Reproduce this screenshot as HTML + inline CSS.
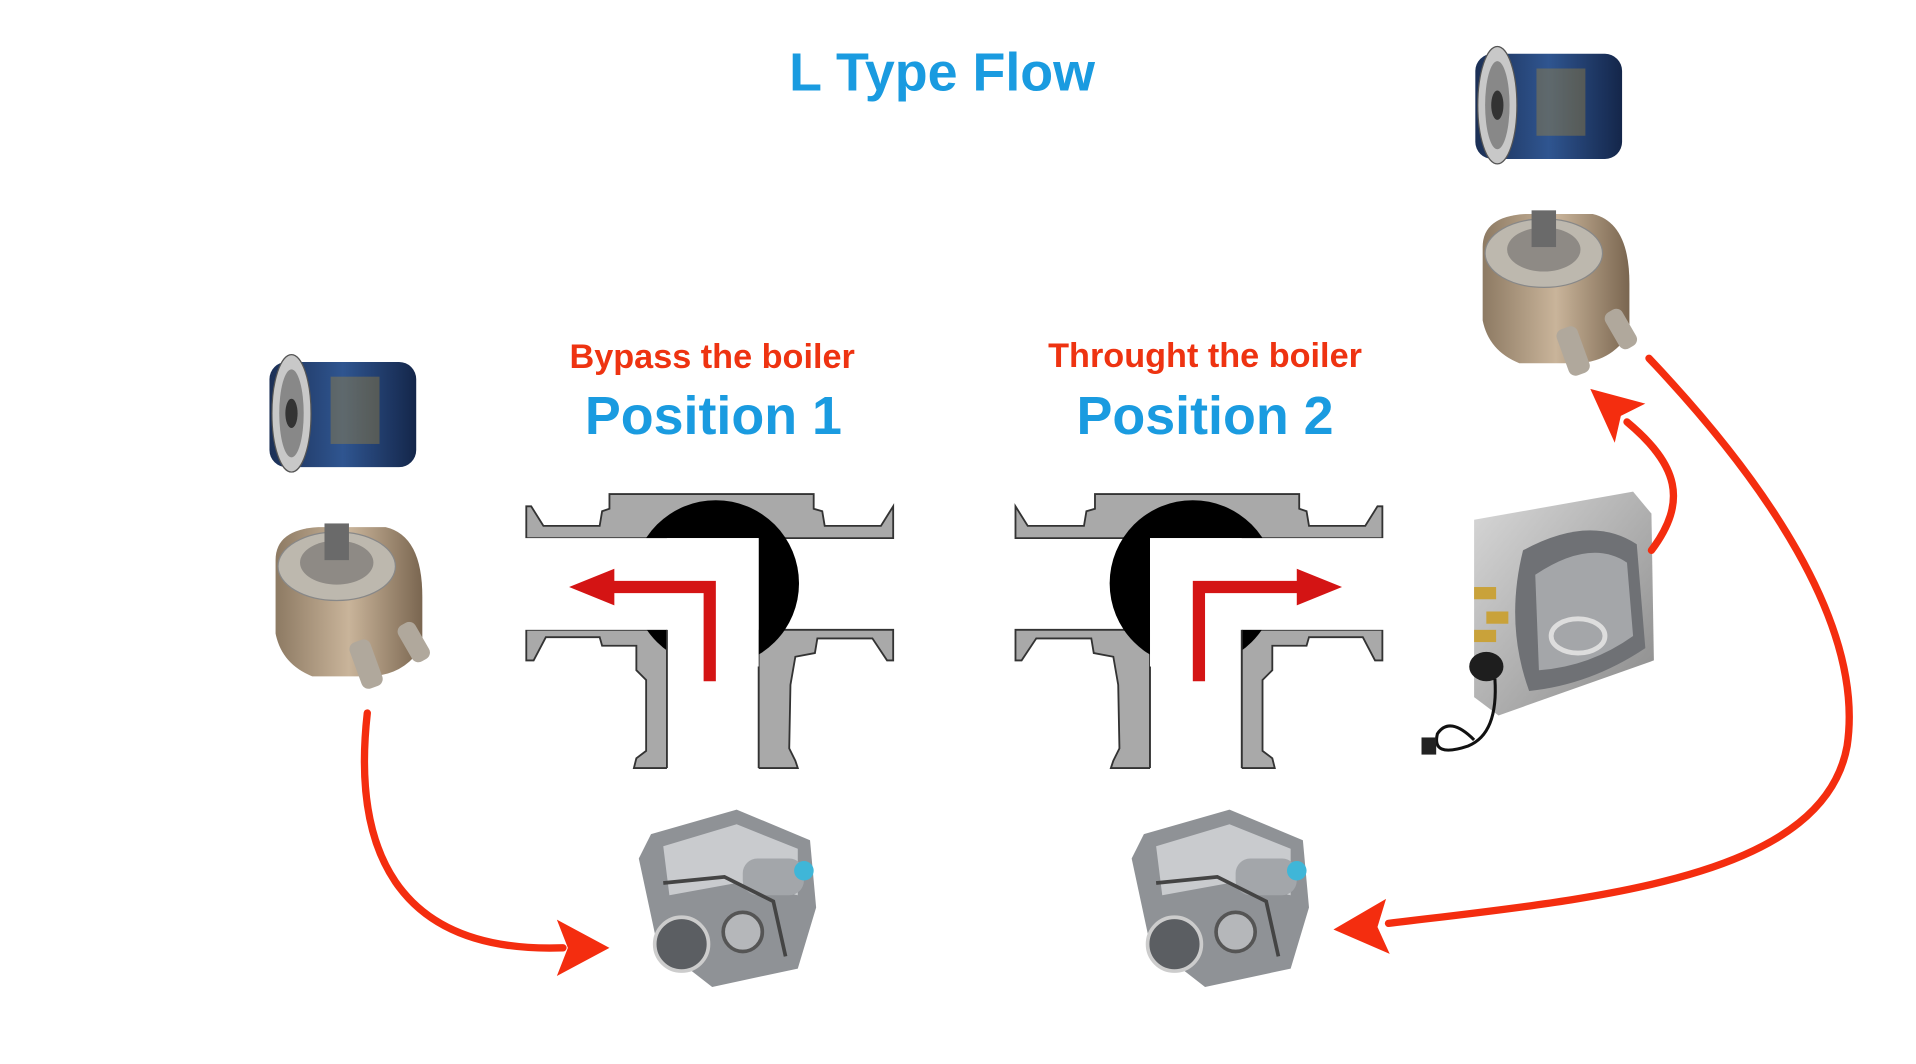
<!DOCTYPE html>
<html><head><meta charset="utf-8"><style>
html,body{margin:0;padding:0;background:#fff;width:1916px;height:1064px;overflow:hidden}
svg{display:block}
text{font-family:"Liberation Sans",sans-serif;font-weight:bold}
</style></head><body>
<svg width="1916" height="1064" viewBox="0 0 1566 870" xmlns="http://www.w3.org/2000/svg">
<defs>
<linearGradient id="blue" x1="0" x2="1"><stop offset="0" stop-color="#1b2f55"/><stop offset="0.5" stop-color="#2f5590"/><stop offset="1" stop-color="#14264a"/></linearGradient>
<linearGradient id="cool" x1="0" x2="1"><stop offset="0" stop-color="#8d7a63"/><stop offset="0.5" stop-color="#c9b49a"/><stop offset="1" stop-color="#7a6650"/></linearGradient>
<linearGradient id="steel" x1="0" x2="1" y1="0" y2="1"><stop offset="0" stop-color="#d8d8d8"/><stop offset="1" stop-color="#8a8a8a"/></linearGradient>
<g id="valve">
  <path d="M430,414 L434,414 L444,430 L490,430 L492,418 L498,416 L498,404 L665,404 L665,416 L672,418 L674,430 L720,430 L730,414 L730,440 L430,440 Z" fill="#a9a9a9" stroke="#333" stroke-width="1.5"/>
  <path d="M430,515 L545,515 L545,628 L518,628 L520,620 L528,614 L528,556 L520,548 L520,528 L492,528 L490,521 L446,521 L436,540 L430,540 Z" fill="#a9a9a9" stroke="#333" stroke-width="1.5"/>
  <path d="M620,515 L730,515 L730,540 L725,540 L713,522 L668,522 L666,534 L650,537 L646,560 L645,612 L650,622 L652,628 L620,628 Z" fill="#a9a9a9" stroke="#333" stroke-width="1.5"/>
  <circle cx="585" cy="477" r="68" fill="#000"/>
  <rect x="428" y="440" width="192" height="75" fill="#fff"/>
  <rect x="545" y="440" width="75" height="195" fill="#fff"/>
  <path d="M545,515 L545,628" stroke="#333" stroke-width="1.5"/>
  <path d="M620,545 L620,628" stroke="#333" stroke-width="1.5"/>
</g>
<g id="filter">
  <rect x="0" y="8" width="120" height="86" rx="14" fill="url(#blue)"/>
  <ellipse cx="18" cy="50" rx="16" ry="48" fill="#c8c8c8" stroke="#555"/>
  <ellipse cx="18" cy="50" rx="10" ry="36" fill="#888"/>
  <ellipse cx="18" cy="50" rx="5" ry="12" fill="#333"/>
  <rect x="50" y="20" width="40" height="55" fill="#b8902e" opacity="0.35"/>
</g>
<g id="cooler">
  <path d="M5,30 Q5,5 40,3 L95,3 Q125,10 125,60 L125,100 Q110,125 80,125 L35,125 Q10,115 5,90 Z" fill="url(#cool)"/>
  <ellipse cx="55" cy="35" rx="48" ry="28" fill="#bdb8ae" stroke="#888"/>
  <ellipse cx="55" cy="32" rx="30" ry="18" fill="#8e8a85"/>
  <rect x="45" y="0" width="20" height="30" fill="#6a6a6a"/>
  <rect x="70" y="95" width="18" height="40" rx="6" fill="#b0a89c" transform="rotate(-20 79 115)"/>
  <rect x="110" y="80" width="16" height="34" rx="6" fill="#b0a89c" transform="rotate(-30 118 97)"/>
</g>
<g id="engine">
  <path d="M20,20 L90,0 L150,25 L155,80 L140,130 L70,145 L25,110 L10,40 Z" fill="#8f9296"/>
  <path d="M30,30 L90,12 L140,32 L140,70 L90,60 L35,70 Z" fill="#c9cbce"/>
  <circle cx="45" cy="110" r="22" fill="#5b5e62" stroke="#ccc" stroke-width="3"/>
  <circle cx="95" cy="100" r="16" fill="#b5b7ba" stroke="#555" stroke-width="3"/>
  <rect x="95" y="40" width="50" height="30" rx="12" fill="#a3a6aa"/>
  <circle cx="145" cy="50" r="8" fill="#3fb6d8"/>
  <path d="M30,60 L80,55 L120,75 L130,120" stroke="#444" stroke-width="3" fill="none"/>
</g>
</defs>

<text x="770" y="74" font-size="44" fill="#1a9be0" text-anchor="middle">L Type Flow</text>
<text x="582" y="301" font-size="28" fill="#ee3311" text-anchor="middle">Bypass the boiler</text>
<text x="583" y="355" font-size="44" fill="#1a9be0" text-anchor="middle">Position 1</text>
<text x="985" y="300" font-size="28" fill="#ee3311" text-anchor="middle">Throught the boiler</text>
<text x="985" y="355" font-size="44" fill="#1a9be0" text-anchor="middle">Position 2</text>

<use href="#valve"/>
<use href="#valve" transform="translate(1560,0) scale(-1,1)"/>

<path d="M580,557 L580,480 L500,480" stroke="#d41414" stroke-width="10" fill="none"/>
<polygon points="465,480 502,465 502,495" fill="#d41414"/>
<path d="M980,557 L980,480 L1062,480" stroke="#d41414" stroke-width="10" fill="none"/>
<polygon points="1097,480 1060,465 1060,495" fill="#d41414"/>

<use href="#filter" transform="translate(220,288)"/>
<use href="#filter" transform="translate(1206,36)"/>
<use href="#cooler" transform="translate(220,428)"/>
<use href="#cooler" transform="translate(1207,172)"/>
<use href="#engine" transform="translate(512,662)"/>
<use href="#engine" transform="translate(915,662)"/>

<g>
  <path d="M1205,425 L1335,402 L1350,420 L1352,540 L1225,585 L1205,570 Z" fill="url(#steel)"/>
  <path d="M1245,450 Q1300,420 1338,445 L1345,530 Q1300,560 1250,565 Q1230,510 1245,450 Z" fill="#6f7175"/>
  <path d="M1255,470 Q1300,440 1330,460 L1335,520 Q1300,545 1258,548 Z" fill="#a4a6a9"/>
  <ellipse cx="1290" cy="520" rx="22" ry="14" fill="none" stroke="#ddd" stroke-width="4"/>
  <rect x="1205" y="480" width="18" height="10" fill="#c9a23a"/>
  <rect x="1215" y="500" width="18" height="10" fill="#c9a23a"/>
  <rect x="1205" y="515" width="18" height="10" fill="#c9a23a"/>
  <ellipse cx="1215" cy="545" rx="14" ry="12" fill="#1e1e1e"/>
  <path d="M1222,555 Q1225,600 1200,610 Q1170,620 1175,600 Q1185,585 1205,605" stroke="#111" stroke-width="2.5" fill="none"/>
  <rect x="1162" y="603" width="12" height="14" fill="#222"/>
</g>

<g stroke="#f42d0f" stroke-width="6" fill="none" stroke-linecap="round">
  <path d="M300,583 C288,690 320,780 460,775"/>
  <path d="M1348,293 C1440,390 1525,510 1510,610 C1490,720 1300,735 1135,755"/>
  <path d="M1350,450 C1380,410 1372,380 1330,345"/>
</g>
<polygon points="498,775 455,752 464,775 455,798" fill="#f42d0f"/>
<polygon points="1090,760 1133,735 1126,758 1136,780" fill="#f42d0f"/>
<polygon points="1300,318 1345,330 1325,340 1320,362" fill="#f42d0f"/>
</svg>
</body></html>
